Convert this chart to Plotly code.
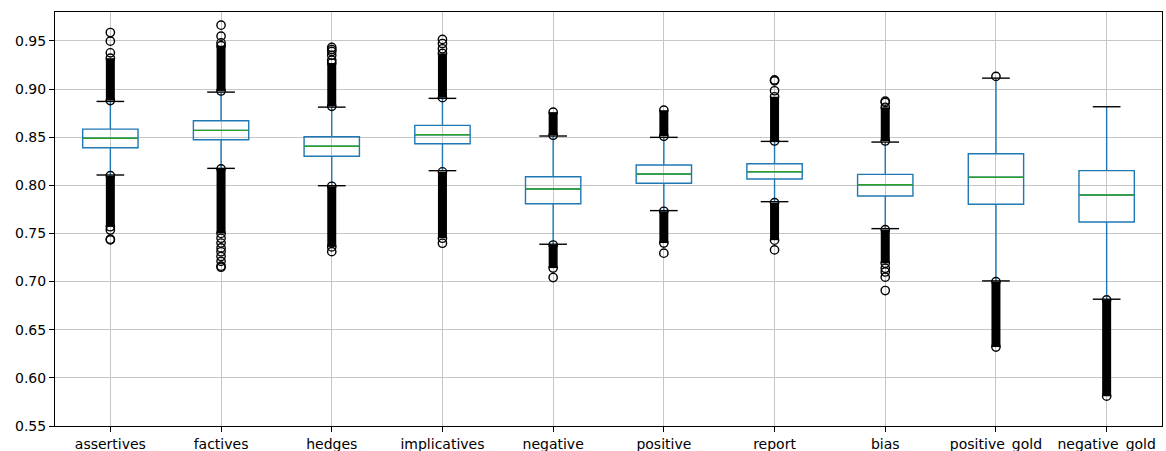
import plotly.graph_objects as go

# Score distributions per feature group
categories = ["assertives", "factives", "hedges", "implicatives", "negative",
              "positive", "report", "bias", "positive_gold", "negative_gold"]

q1 = [0.8390, 0.8473, 0.8301, 0.8432, 0.7809, 0.8021, 0.8065, 0.7889, 0.7803, 0.7619]
median = [0.8488, 0.8571, 0.8405, 0.8525, 0.7962, 0.8117, 0.8141, 0.8006, 0.8083, 0.7900]
q3 = [0.8584, 0.8670, 0.8504, 0.8622, 0.8089, 0.8211, 0.8224, 0.8114, 0.8328, 0.8152]
whisker_low = [0.8107, 0.8176, 0.7996, 0.8152, 0.7388, 0.7737, 0.7830, 0.7550, 0.7007, 0.6817]
whisker_high = [0.8871, 0.8968, 0.8812, 0.8903, 0.8512, 0.8498, 0.8456, 0.8449, 0.9113, 0.8816]

# Tightly packed flier runs (low, high); None where a side has no such run
upper_runs = [(0.888, 0.932), (0.898, 0.945), (0.882, 0.927), (0.891, 0.937), (0.852, 0.876),
              (0.851, 0.878), (0.846, 0.892), (0.846, 0.881), None, None]
lower_runs = [(0.757, 0.810), (0.750, 0.817), (0.736, 0.799), (0.745, 0.814), (0.714, 0.738),
              (0.740, 0.773), (0.743, 0.782), (0.719, 0.754), (0.632, 0.700), (0.581, 0.681)]

# Isolated fliers beyond the packed runs
sparse_fliers = [
    [0.9376, 0.9497, 0.9587, 0.7536, 0.7440, 0.7433],
    [0.9480, 0.9549, 0.9663, 0.7450, 0.7400, 0.7350, 0.7310, 0.7260, 0.7210, 0.7160, 0.7149],
    [0.9300, 0.9350, 0.9390, 0.9410, 0.9432, 0.7311],
    [0.9418, 0.9473, 0.9515, 0.7398],
    [0.7042],
    [0.7295],
    [0.8982, 0.9085, 0.9095, 0.7329],
    [0.8860, 0.8874, 0.7139, 0.7100, 0.7046, 0.6907],
    [0.9131],
    [],
]

y_ticks = [0.55, 0.60, 0.65, 0.70, 0.75, 0.80, 0.85, 0.90, 0.95]

BLUE = "#1f77b4"
GREEN = "#2ca02c"
FONT = "DejaVu Sans"

positions = list(range(1, len(categories) + 1))
box_w = 0.5
cap_w = 0.25

fig = go.Figure()

for i, pos in enumerate(positions):
    # box + whiskers
    fig.add_trace(go.Box(
        x=[pos], q1=[q1[i]], median=[median[i]], q3=[q3[i]],
        lowerfence=[whisker_low[i]], upperfence=[whisker_high[i]],
        width=box_w, whiskerwidth=0, boxpoints=False,
        line=dict(color=BLUE, width=1.4), fillcolor="rgba(0,0,0,0)",
        hoverinfo="skip", showlegend=False,
    ))
    # median line
    fig.add_trace(go.Scatter(
        x=[pos - box_w / 2, pos + box_w / 2], y=[median[i], median[i]],
        mode="lines", line=dict(color=GREEN, width=1.4),
        hoverinfo="skip", showlegend=False,
    ))
    # caps
    for val in (whisker_low[i], whisker_high[i]):
        fig.add_trace(go.Scatter(
            x=[pos - cap_w / 2, pos + cap_w / 2], y=[val, val],
            mode="lines", line=dict(color="black", width=1.4),
            hoverinfo="skip", showlegend=False,
        ))

# fliers
for i, pos in enumerate(positions):
    for run in (upper_runs[i], lower_runs[i]):
        if run is None:
            continue
        lo, hi = run
        fig.add_trace(go.Scatter(
            x=[pos, pos], y=[lo, hi], mode="lines",
            line=dict(color="black", width=9),
            hoverinfo="skip", showlegend=False,
        ))
        fig.add_trace(go.Scatter(
            x=[pos, pos], y=[lo, hi], mode="markers",
            marker=dict(symbol="circle-open", size=8.3, color="black",
                        line=dict(width=1.4, color="black")),
            hoverinfo="skip", showlegend=False,
        ))
    if sparse_fliers[i]:
        fig.add_trace(go.Scatter(
            x=[pos] * len(sparse_fliers[i]), y=sparse_fliers[i], mode="markers",
            marker=dict(symbol="circle-open", size=8.3, color="black",
                        line=dict(width=1.4, color="black")),
            hoverinfo="skip", showlegend=False,
        ))

axis_common = dict(
    showgrid=True, gridcolor="#c6c6c6", gridwidth=1.2,
    showline=True, linecolor="black", linewidth=1, mirror=True,
    ticks="outside", ticklen=5, tickwidth=1, tickcolor="black",
    tickfont=dict(family=FONT, size=14, color="black"),
    zeroline=False, automargin=False,
)

fig.update_layout(
    width=1166, height=451,
    margin=dict(l=55, r=4, t=12, b=25),
    paper_bgcolor="white", plot_bgcolor="white",
    template="none",
    showlegend=False,
    xaxis=dict(range=[0.5, 10.5], tickmode="array", tickvals=positions,
               ticktext=categories, **axis_common),
    yaxis=dict(range=[0.55, 0.98], tickmode="array", tickvals=y_ticks,
               ticktext=[f"{v:.2f}" for v in y_ticks], **axis_common),
)

fig.write_html("out.html")
